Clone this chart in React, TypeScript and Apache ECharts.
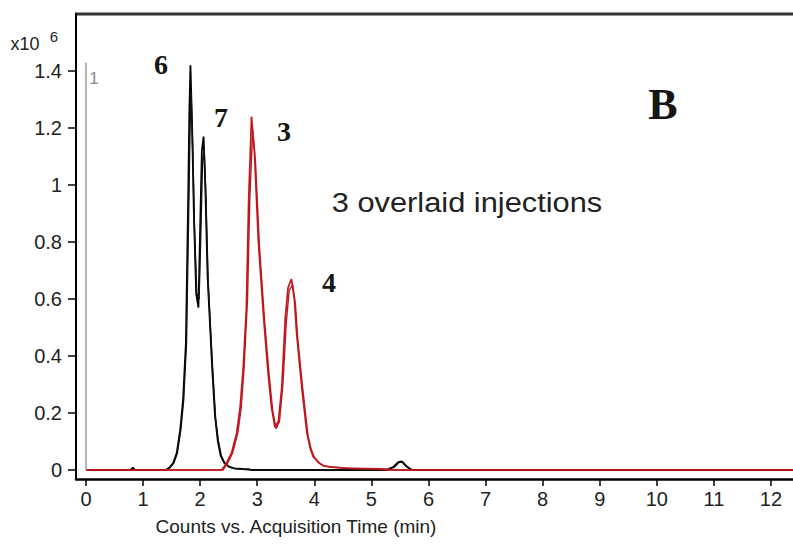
import React, { useEffect, useRef } from "react";
import * as echarts from "echarts";

// Black trace, injection A (compounds 6 and 7)
const blackTime = [0, 0.78, 0.82, 0.86, 1.40, 1.47, 1.53, 1.59, 1.65, 1.70, 1.75, 1.79, 1.81, 1.83, 1.86, 1.89, 1.93, 1.97, 2.00, 2.03, 2.06, 2.09, 2.13, 2.17, 2.21, 2.26, 2.31, 2.36, 2.42, 2.50, 2.60, 2.75, 2.85, 2.90, 5.25, 5.38, 5.47, 5.53, 5.60, 5.70, 12.4];
const blackCounts = [0, 0, 0.008, 0, 0, 0.01, 0.025, 0.06, 0.14, 0.245, 0.445, 0.95, 1.25, 1.42, 1.2, 0.9, 0.62, 0.57, 0.85, 1.12, 1.17, 1.0, 0.68, 0.52, 0.36, 0.19, 0.1, 0.05, 0.025, 0.012, 0.006, 0.004, 0.003, 0, 0, 0.01, 0.028, 0.03, 0.015, 0, 0];

// Black trace, injection B
const black2Time = [0, 1.40, 1.48, 1.54, 1.60, 1.66, 1.71, 1.76, 1.80, 1.82, 1.84, 1.87, 1.90, 1.94, 1.98, 2.01, 2.04, 2.07, 2.10, 2.14, 2.18, 2.22, 2.27, 2.32, 2.37, 2.43, 2.52, 2.62, 2.90, 5.28, 5.40, 5.48, 5.55, 5.62, 5.72, 12.4];
const black2Counts = [0, 0, 0.01, 0.025, 0.06, 0.14, 0.245, 0.445, 0.93, 1.18, 1.33, 1.12, 0.85, 0.62, 0.6, 0.82, 1.08, 1.12, 0.96, 0.66, 0.5, 0.35, 0.18, 0.1, 0.05, 0.025, 0.01, 0.004, 0, 0, 0.01, 0.026, 0.028, 0.012, 0, 0];

// Red trace, injection A (compounds 3 and 4)
const redTime = [0, 2.38, 2.46, 2.55, 2.64, 2.70, 2.755, 2.81, 2.85, 2.90, 2.95, 3.02, 3.11, 3.19, 3.25, 3.31, 3.37, 3.43, 3.49, 3.54, 3.60, 3.65, 3.69, 3.78, 3.87, 3.93, 3.98, 4.08, 4.16, 4.30, 4.60, 5.20, 5.40, 12.4];
const redCounts = [0, 0, 0.024, 0.06, 0.13, 0.22, 0.36, 0.57, 0.95, 1.24, 1.12, 0.80, 0.54, 0.34, 0.22, 0.15, 0.17, 0.29, 0.53, 0.64, 0.67, 0.6, 0.48, 0.29, 0.13, 0.075, 0.047, 0.025, 0.015, 0.01, 0.006, 0.004, 0, 0];

// Red trace, injection B
const red2Time = [0, 2.40, 2.48, 2.57, 2.66, 2.72, 2.77, 2.83, 2.87, 2.92, 2.97, 3.04, 3.13, 3.21, 3.27, 3.33, 3.39, 3.45, 3.51, 3.56, 3.62, 3.67, 3.71, 3.80, 3.89, 3.95, 4.00, 4.10, 4.18, 4.50, 5.00, 5.30, 12.4];
const red2Counts = [0, 0, 0.024, 0.06, 0.13, 0.22, 0.36, 0.6, 0.95, 1.19, 1.08, 0.78, 0.52, 0.33, 0.21, 0.145, 0.17, 0.3, 0.52, 0.63, 0.65, 0.58, 0.46, 0.28, 0.12, 0.07, 0.045, 0.022, 0.013, 0.007, 0.004, 0, 0];

const xTicks = [0, 1, 2, 3, 4, 5, 6, 7, 8, 9, 10, 11, 12];
const yTicks = [0, 0.2, 0.4, 0.6, 0.8, 1, 1.2, 1.4];

const peakLabels = [
  { text: "6", x: 161, y: 64 },
  { text: "7", x: 221, y: 117 },
  { text: "3", x: 284, y: 131 },
  { text: "4", x: 329, y: 282 },
];

export default function App() {
  const ref = useRef<HTMLDivElement>(null);
  useEffect(() => {
    if (!ref.current) return;
    const chart = echarts.init(ref.current, null, { renderer: "svg" });
    const axisFont = { fontFamily: "Liberation Sans", fontSize: 20, color: "#222" };
    const lineSeries = (name: string, t: number[], v: number[], color: string, width: number, z: number) => ({
      type: "line",
      name,
      data: t.map((x, i) => [x, v[i]]),
      showSymbol: false,
      lineStyle: { color, width },
      z,
    });
    chart.setOption({
      animation: false,
      backgroundColor: "#fff",
      grid: { left: 76, right: 0, top: 14, bottom: 65 },
      xAxis: {
        type: "value",
        min: -0.175,
        max: 12.386,
        axisLine: { show: true, onZero: false, lineStyle: { color: "#000", width: 2.5 } },
        axisTick: { show: true, customValues: xTicks, length: 7, inside: false, lineStyle: { color: "#000", width: 1.5 } },
        axisLabel: { customValues: xTicks, margin: 10, ...axisFont },
        splitLine: { show: false },
      },
      yAxis: {
        type: "value",
        min: -0.0316,
        max: 1.6,
        axisLine: { show: true, onZero: false, lineStyle: { color: "#000", width: 2 } },
        axisTick: { show: true, customValues: yTicks, length: 8, lineStyle: { color: "#000", width: 1.5 } },
        axisLabel: { customValues: yTicks, margin: 14, ...axisFont },
        splitLine: { show: false },
      },
      series: [
        {
          ...lineSeries("black A", blackTime, blackCounts, "#000", 1.8, 2),
          markLine: {
            silent: true,
            symbol: "none",
            label: { show: false },
            lineStyle: { color: "#9a9a9a", width: 1.5, type: "solid" },
            data: [[{ coord: [0, 0] }, { coord: [0, 1.43] }]],
          },
        },
        lineSeries("black B", black2Time, black2Counts, "#111", 1.5, 2),
        lineSeries("red A", redTime, redCounts, "#c4161c", 1.7, 3),
        lineSeries("red B", red2Time, red2Counts, "#b81a1f", 1.4, 3),
      ],
      graphic: [
        { type: "line", shape: { x1: 75, y1: 14, x2: 793, y2: 14 }, style: { stroke: "#333", lineWidth: 3 } },
        { type: "text", x: 25, y: 44, style: { text: "x10", font: "18px 'Liberation Sans'", fill: "#222", textAlign: "center", textVerticalAlign: "middle" } },
        { type: "text", x: 54, y: 36, style: { text: "6", font: "15px 'Liberation Sans'", fill: "#222", textAlign: "center", textVerticalAlign: "middle" } },
        { type: "text", x: 94, y: 78, style: { text: "1", font: "17px 'Liberation Sans'", fill: "#8a8a8a", textAlign: "center", textVerticalAlign: "middle" } },
        ...peakLabels.map((p) => ({
          type: "text",
          x: p.x,
          y: p.y,
          style: { text: p.text, font: "bold 28px 'Liberation Serif'", fill: "#151515", textAlign: "center", textVerticalAlign: "middle" },
        })),
        { type: "text", x: 663, y: 104, style: { text: "B", font: "bold 44px 'Liberation Serif'", fill: "#151515", textAlign: "center", textVerticalAlign: "middle" } },
        { type: "text", x: 467, y: 202, scaleX: 1.1, originX: 0, originY: 0, style: { text: "3 overlaid injections", font: "28px 'Liberation Sans'", fill: "#222", textAlign: "center", textVerticalAlign: "middle" } },
        { type: "text", x: 296, y: 526, style: { text: "Counts vs. Acquisition Time (min)", font: "19px 'Liberation Sans'", fill: "#222", textAlign: "center", textVerticalAlign: "middle" } },
      ],
    });
    return () => chart.dispose();
  }, []);
  return <div ref={ref} style={{ position: "absolute", left: 0, top: 0, width: 793, height: 544 }} />;
}
